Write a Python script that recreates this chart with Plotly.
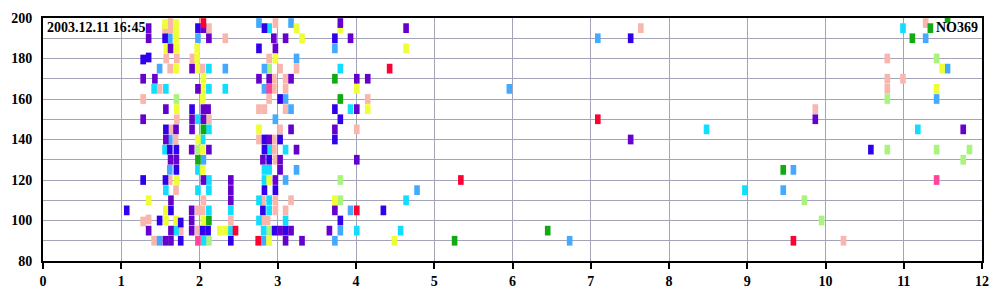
import plotly.graph_objects as go

# ---------------- data (x = time-like axis 0..12, y = 80..200) ----------------
purple_x = [1.35, 1.35, 2.05, 2.12, 1.63, 1.28, 1.43, 1.905, 1.98, 1.57, 2.05, 2.11, 1.28, 1.905, 1.905, 2.05, 1.70,
            1.57, 1.90, 2.12, 1.63, 1.705, 2.05, 2.40, 2.40, 1.635, 2.40, 1.90, 1.90, 1.35, 1.635, 1.90, 1.565, 1.635,
            3.80, 2.95, 3.10, 3.93, 2.97, 2.76, 2.89, 3.17, 4.01, 4.15, 4.01, 3.17, 3.73, 2.89, 3.24, 2.81, 3.03,
            4.01, 3.03, 2.97, 3.73, 3.03, 3.17, 3.66, 3.10, 3.31, 4.64, 7.51, 9.87, 11.76]
purple_y = [195, 190, 195, 190, 185, 170, 170, 175, 165, 155, 155, 155, 150, 150, 145, 150, 145,
            140, 135, 135, 130, 130, 120, 120, 115, 110, 110, 105, 100, 95, 95, 95, 90, 90,
            197.5, 190, 190, 190, 185, 170, 170, 170, 170, 170, 155, 145, 145, 140, 135, 130, 130,
            130, 125, 120, 105, 95, 95, 95, 90, 90, 195, 140, 150, 145]

blue_x = [1.56, 1.98, 1.28, 1.35, 1.905, 1.57, 1.62, 1.705, 1.705, 1.28, 1.565, 1.07, 1.635, 1.49, 1.76, 2.04, 2.11,
          1.76, 2.40, 2.83, 3.73, 2.76, 3.03, 3.73, 3.80, 2.83, 3.03, 3.73, 2.83, 2.89, 2.83, 2.97, 2.81, 4.35,
          3.80, 2.96, 3.10, 7.51, 10.58]
blue_y = [190, 195, 179.5, 180.5, 155, 145, 135, 135, 125, 120, 120, 105, 105, 100, 99, 95, 95,
          90, 90, 195, 190, 185, 160, 155, 150, 140, 140, 140, 135, 130, 115, 115, 105, 105,
          100, 95, 95, 190, 135]

lightblue_x = [1.62, 1.98, 1.49, 2.33, 1.62, 2.05, 1.62, 1.49, 2.76, 3.17, 3.73, 3.24, 2.83, 2.83, 3.10, 3.17,
               2.97, 3.24, 3.10, 3.93, 3.80, 2.82, 3.73, 5.96, 4.78, 7.09, 6.73, 9.59, 9.46, 11.28, 11.56, 11.42]
lightblue_y = [190, 190, 175, 175, 140, 130, 125, 90, 197.5, 197.5, 185, 180, 175, 165, 160, 155,
               150, 125, 120, 105, 95, 90, 90, 165, 115, 190, 90, 125, 115, 190, 175, 160]

cyan_x = [2.12, 1.42, 1.57, 2.12, 2.33, 1.98, 2.12, 2.04, 1.56, 1.98, 2.12, 2.12, 1.57, 1.98, 2.12, 2.40, 1.70,
          2.40, 2.05, 2.89, 3.80, 3.93, 2.89, 3.10, 2.83, 2.89, 2.83, 2.76, 2.89, 2.89, 2.76, 3.10, 2.82, 4.01,
          4.64, 4.57, 8.48, 8.97, 10.99, 11.18]
cyan_y = [175, 165, 165, 165, 165, 150, 145, 140, 135, 125, 120, 115, 115, 115, 105, 105, 95,
          95, 90, 195, 175, 155, 135, 135, 125, 125, 120, 110, 110, 105, 100, 100, 95, 95,
          110, 95, 145, 115, 195, 145]

pink_x = [1.56, 1.63, 1.63, 2.12, 2.33, 1.575, 1.71, 1.91, 1.625, 2.04, 1.49, 1.28, 1.71, 2.12, 1.635, 1.695,
          1.62, 1.70, 2.05, 1.98, 2.04, 1.28, 1.35, 2.40, 1.76, 1.98, 1.42,
          2.97, 2.89, 3.03, 3.24, 2.95, 3.10, 3.10, 2.95, 2.89, 4.15, 2.76, 2.83, 3.10, 3.03, 4.01, 2.76, 2.95,
          2.95, 2.97, 2.81, 2.97, 3.17, 2.97, 3.10, 2.81, 2.87,
          7.64, 9.87, 10.23, 11.28, 10.79, 10.79, 10.79, 10.99]
pink_y = [195, 197.5, 195, 195, 190, 180, 180, 180, 175, 175, 165, 160, 150, 150, 145, 140,
          120, 115, 110, 105, 105, 99.5, 100.5, 100, 95, 95, 90,
          197.5, 180, 175, 175, 170, 170, 165, 165, 160, 160, 155, 155, 155, 145, 145, 140, 140,
          135, 130, 110, 110, 110, 105, 105, 100, 100,
          195, 155, 90, 197.5, 180, 170, 165, 170]

yellow_x = [1.56, 1.70, 1.70, 1.70, 1.575, 1.71, 1.97, 1.97, 1.70, 1.97, 2.05, 2.04, 2.04, 1.71, 1.98, 2.04, 2.04,
            1.71, 1.35, 1.57, 1.57, 1.70, 2.05, 2.26, 2.33,
            3.24, 3.80, 3.31, 2.97, 4.01, 4.15, 2.76, 2.89, 3.73, 2.89,
            4.64, 4.49, 11.49, 11.42]
yellow_y = [197, 197, 193, 190, 185, 185, 185, 180, 175, 175, 170, 165, 160, 155, 140, 135, 125,
            120, 110, 105, 100, 100, 100, 95, 95,
            195, 195, 190, 180, 165, 155, 145, 120, 110, 90,
            185, 90, 175, 165]

lightgreen_x = [1.705, 1.98, 2.12, 2.89, 3.80, 3.80, 2.89, 10.79, 11.42, 11.84, 11.76, 9.73, 9.95, 11.42, 10.79]
lightgreen_y = [160, 135, 90, 175, 120, 110, 95, 135, 135, 135, 130, 110, 100, 180, 160]

green_x = [2.05, 1.98, 2.12, 3.73, 3.80, 6.45, 5.26, 9.46, 11.34, 11.56, 11.11]
green_y = [145, 130, 100, 170, 160, 95, 90, 125, 195, 200, 190]

hotpink_x = [1.98, 2.89, 11.42]
hotpink_y = [90, 165, 120]

red_x = [2.05, 2.46, 4.43, 4.01, 2.75, 5.34, 7.09, 9.59]
red_y = [197.5, 95, 175, 105, 90, 120, 150, 90]

x_ticks = list(range(0, 13))
x_tick_labels = [str(v) for v in x_ticks]
y_ticks = list(range(80, 201, 10))
y_tick_labels = [str(v) if v % 20 == 0 else "" for v in y_ticks]

stamp_text = "2003.12.11 16:45"
id_text = "NO369"

# ---------------- styling ----------------
MARK_W = 0.072   # width of each mark in x units
MARK_H = 4.8     # height of each mark in y units
FONT = "Liberation Serif"

series = [
    ("pink", pink_x, pink_y, "#F8B6AC"),
    ("lightgreen", lightgreen_x, lightgreen_y, "#AAF47E"),
    ("lightblue", lightblue_x, lightblue_y, "#44AAFF"),
    ("cyan", cyan_x, cyan_y, "#11DDFF"),
    ("yellow", yellow_x, yellow_y, "#EEFF33"),
    ("blue", blue_x, blue_y, "#3000EC"),
    ("purple", purple_x, purple_y, "#6600CC"),
    ("green", green_x, green_y, "#11AA11"),
    ("hotpink", hotpink_x, hotpink_y, "#FF4499"),
    ("red", red_x, red_y, "#FF0033"),
]

fig = go.Figure()
for name, xs, ys, col in series:
    fig.add_trace(go.Bar(
        name=name,
        x=xs,
        y=[MARK_H] * len(xs),
        base=[v - MARK_H / 2 for v in ys],
        width=MARK_W,
        marker=dict(color=col, line=dict(width=0)),
        hoverinfo="skip",
        showlegend=False,
    ))

fig.update_layout(
    width=1000, height=300,
    margin=dict(l=41, r=12, t=11, b=39),
    barmode="overlay",
    plot_bgcolor="white", paper_bgcolor="white",
    font=dict(family=FONT, size=14, color="black"),
    showlegend=False,
)
fig.update_xaxes(
    range=[0, 12],
    tickvals=x_ticks, ticktext=x_tick_labels,
    showgrid=True, gridcolor="#A4A4B8", gridwidth=1,
    showline=True, linecolor="black", linewidth=2, mirror=True,
    ticks="outside", ticklen=6, tickwidth=2, tickcolor="black",
    tickfont=dict(family=FONT, size=14, color="black", weight="bold"),
    zeroline=False,
)
fig.update_yaxes(
    range=[80, 200],
    tickvals=y_ticks, ticktext=y_tick_labels,
    showgrid=True, gridcolor="#A4A4B8", gridwidth=1,
    showline=True, linecolor="black", linewidth=2, mirror=True,
    ticks="", ticklabelstandoff=6,
    tickfont=dict(family=FONT, size=14, color="black", weight="bold"),
    zeroline=False,
)
fig.add_annotation(
    xref="paper", yref="paper", x=0, y=1, xanchor="left", yanchor="top",
    xshift=2, yshift=0, showarrow=False, text=stamp_text,
    font=dict(family=FONT, size=14, color="black", weight="bold"),
)
fig.add_annotation(
    xref="paper", yref="paper", x=1, y=1, xanchor="right", yanchor="top",
    xshift=-2, yshift=0, showarrow=False, text=id_text,
    font=dict(family=FONT, size=14, color="black", weight="bold"),
)

fig.write_html("out.html")
